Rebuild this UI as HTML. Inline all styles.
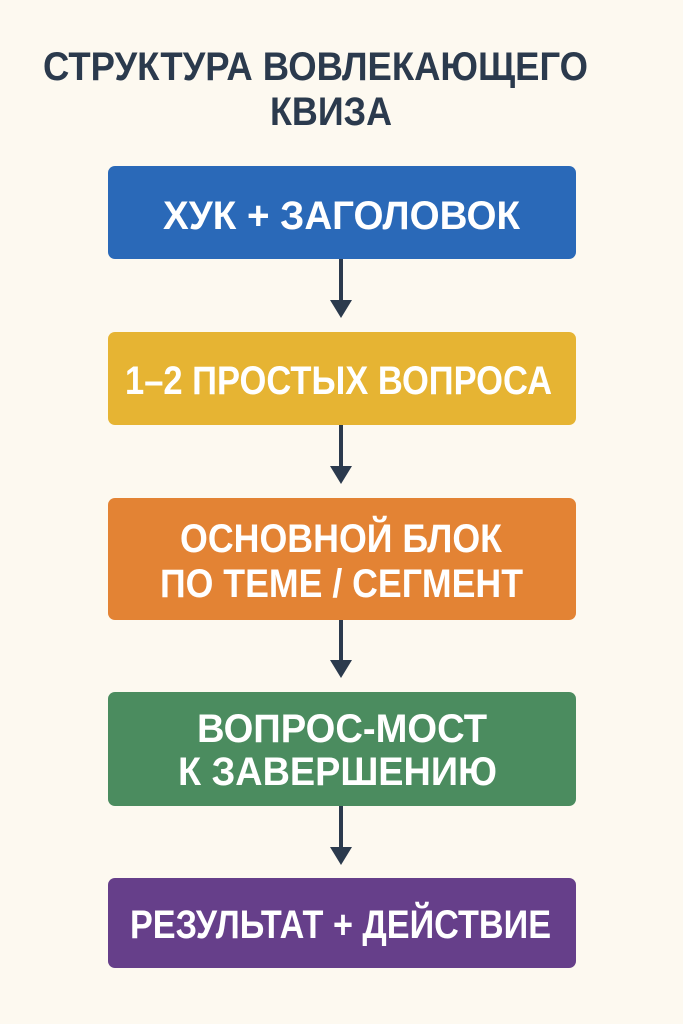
<!DOCTYPE html>
<html><head><meta charset="utf-8"><style>
html,body{margin:0;padding:0;background:#fdf9f0;}
svg{display:block}
text{font-family:"Liberation Sans",sans-serif;font-weight:bold;}
</style></head><body>
<svg width="683" height="1024" viewBox="0 0 683 1024">
<rect width="683" height="1024" fill="#fdf9f0"/>
<g fill="#2b3a4d" font-size="40">
<text x="43" y="80" textLength="545" lengthAdjust="spacingAndGlyphs">СТРУКТУРА ВОВЛЕКАЮЩЕГО</text>
<text x="270" y="125" textLength="122" lengthAdjust="spacingAndGlyphs">КВИЗА</text>
</g>
<g fill="#2b3a4d" stroke="#2b3a4d">
<line x1="341" y1="259" x2="341" y2="302" stroke-width="4"/><polygon points="330,300 352,300 341,318" stroke="none"/>
<line x1="341" y1="425" x2="341" y2="468" stroke-width="4"/><polygon points="330,466 352,466 341,484" stroke="none"/>
<line x1="341" y1="620" x2="341" y2="662" stroke-width="4"/><polygon points="330,660 352,660 341,678" stroke="none"/>
<line x1="341" y1="806" x2="341" y2="849" stroke-width="4"/><polygon points="330,847 352,847 341,865" stroke="none"/>
</g>
<rect x="108" y="166" width="468" height="93" rx="7" fill="#2a69b8"/>
<rect x="108" y="332" width="468" height="93" rx="7" fill="#e6b433"/>
<rect x="108" y="498" width="468" height="122" rx="7" fill="#e38334"/>
<rect x="108" y="692" width="468" height="114" rx="7" fill="#4b8c5f"/>
<rect x="108" y="878" width="468" height="90" rx="7" fill="#663f8a"/>
<g fill="#ffffff" font-size="40">
<text x="163" y="229" textLength="357" lengthAdjust="spacingAndGlyphs">ХУК + ЗАГОЛОВОК</text>
<text x="125" y="394" textLength="427" lengthAdjust="spacingAndGlyphs">1–2 ПРОСТЫХ ВОПРОСА</text>
<text x="180" y="552" textLength="322" lengthAdjust="spacingAndGlyphs">ОСНОВНОЙ БЛОК</text>
<text x="160" y="597" textLength="363" lengthAdjust="spacingAndGlyphs">ПО ТЕМЕ / СЕГМЕНТ</text>
<text x="197" y="742" textLength="290" lengthAdjust="spacingAndGlyphs">ВОПРОС-МОСТ</text>
<text x="178" y="785" textLength="319" lengthAdjust="spacingAndGlyphs">К ЗАВЕРШЕНИЮ</text>
<text x="130" y="938" textLength="421" lengthAdjust="spacingAndGlyphs">РЕЗУЛЬТАТ + ДЕЙСТВИЕ</text>
</g>
</svg>
</body></html>
